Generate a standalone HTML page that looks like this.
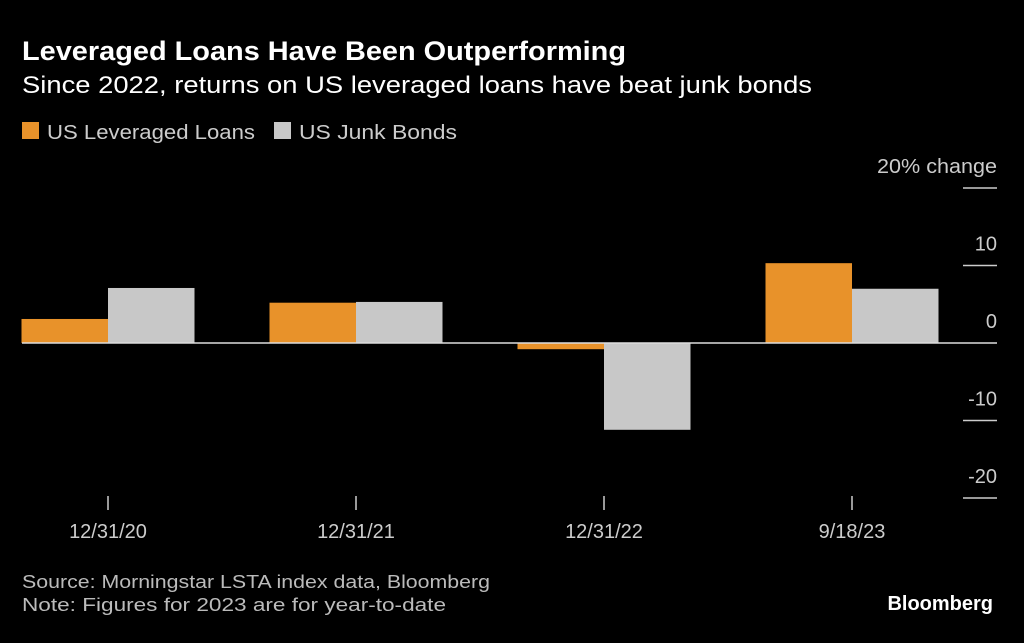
<!DOCTYPE html>
<html><head><meta charset="utf-8"><style>
body{margin:0;background:#000;width:1024px;height:638px;overflow:hidden;font-family:"Liberation Sans",sans-serif;color:#fff}
</style></head><body>
<svg width="1024" height="638">
<text x="22" y="60" font-size="27" font-weight="bold" fill="#fff" textLength="604" lengthAdjust="spacingAndGlyphs">Leveraged Loans Have Been Outperforming</text>
<text x="22" y="93" font-size="24" fill="#fff" textLength="790" lengthAdjust="spacingAndGlyphs">Since 2022, returns on US leveraged loans have beat junk bonds</text>
<g>
<rect x="22" y="122" width="17" height="17" fill="#e8922a"/>
<text x="47" y="139" font-size="20" fill="#ccc" textLength="208" lengthAdjust="spacingAndGlyphs">US Leveraged Loans</text>
<rect x="274" y="122" width="17" height="17" fill="#c8c8c8"/>
<text x="299" y="139" font-size="20" fill="#ccc" textLength="158" lengthAdjust="spacingAndGlyphs">US Junk Bonds</text>
</g>
<g id="plot"></g>
<text x="22" y="588" font-size="18" fill="#bbb" textLength="468" lengthAdjust="spacingAndGlyphs">Source: Morningstar LSTA index data, Bloomberg</text>
<text x="22" y="611" font-size="18" fill="#bbb" textLength="424" lengthAdjust="spacingAndGlyphs">Note: Figures for 2023 are for year-to-date</text>
<text x="993" y="610" font-size="20" font-weight="bold" fill="#fff" text-anchor="end">Bloomberg</text>
</svg>
<script>
const categories=["12/31/20","12/31/21","12/31/22","9/18/23"];
const loans=[3.1,5.2,-0.8,10.3];
const bonds=[7.1,5.3,-11.2,7.0];
const yTicks=[20,10,0,-10,-20];
const yTickLabels=["20% change","10","0","-10","-20"];
const NS="http://www.w3.org/2000/svg";
const g=document.getElementById('plot');
function y(v){return 343-v*7.75;}
function xc(i){return 108+i*248;}
const bw=86.5;
function el(t,a){const e=document.createElementNS(NS,t);for(const k in a)e.setAttribute(k,a[k]);g.appendChild(e);return e;}
yTicks.forEach((v,i)=>{
 if(v!==0){const l=el('line',{x1:963,x2:997,y1:y(v),y2:y(v),stroke:'#ccc','stroke-width':1.5});
 
 }
 const t=el('text',{x:997,y:y(v)-15,'font-size':20,fill:'#ccc','text-anchor':'end'});
 t.textContent=yTickLabels[i];
 if(i===0){t.setAttribute('textLength',120);t.setAttribute('lengthAdjust','spacingAndGlyphs');}
 
 
});
categories.forEach((c,i)=>{
 const cx=xc(i);
 [[loans[i],cx-bw,'#e8922a','loans'],[bonds[i],cx,'#c8c8c8','bonds']].forEach(([v,x,col,n])=>{
  const r=el('rect',{x:x,y:Math.min(y(v),y(0)),width:bw,height:Math.abs(y(v)-y(0)),fill:col});
  
  
 });
 const tk=el('line',{x1:cx,x2:cx,y1:496,y2:510,stroke:'#ccc','stroke-width':1.5});
 
 
 const t=el('text',{x:cx,y:538,'font-size':20,fill:'#ccc','text-anchor':'middle'});
 t.textContent=c;
 
 
});
const z=el('line',{x1:22,x2:997,y1:y(0),y2:y(0),stroke:'#ddd','stroke-width':1.5});


</script>
</body></html>
